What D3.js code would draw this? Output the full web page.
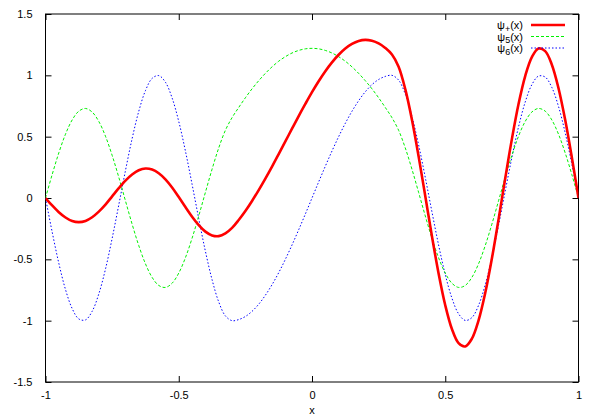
<!DOCTYPE html>
<html>
<head>
<meta charset="utf-8">
<script src="https://cdn.jsdelivr.net/npm/d3@7"></script>
<style>
  html, body { margin: 0; padding: 0; background: #fff; }
  svg { display: block; }
  text { font-family: "Liberation Sans", Arial, sans-serif; font-size: 11px; fill: #000; }
</style>
</head>
<body>
<svg id="chart" width="600" height="420"></svg>
<script>
const xs = [-1, -0.975, -0.95, -0.925, -0.9, -0.875, -0.85, -0.825, -0.8, -0.775,
  -0.75, -0.725, -0.7, -0.675, -0.65, -0.625, -0.6, -0.575, -0.55, -0.525,
  -0.5, -0.475, -0.45, -0.425, -0.4, -0.375, -0.35, -0.325, -0.3, -0.275,
  -0.25, -0.225, -0.2, -0.175, -0.15, -0.125, -0.1, -0.075, -0.05, -0.025,
  0,
  0.025, 0.05, 0.075, 0.1, 0.125, 0.15, 0.175, 0.2, 0.225, 0.25,
  0.275, 0.3, 0.325, 0.35, 0.375, 0.4, 0.425, 0.45, 0.475, 0.5,
  0.525, 0.55, 0.575, 0.6, 0.625, 0.65, 0.675, 0.7, 0.725, 0.75,
  0.775, 0.8, 0.825, 0.85, 0.875, 0.9, 0.925, 0.95, 0.975, 1];

const psiPlus = [0, -0.061, -0.116, -0.159, -0.188, -0.197, -0.187, -0.157, -0.111, -0.054,
  0.013, 0.080, 0.141, 0.191, 0.226, 0.240, 0.232, 0.202, 0.152, 0.086,
  0.008, -0.074, -0.153, -0.221, -0.274, -0.305, -0.311, -0.289, -0.244, -0.179,
  -0.106, -0.024, 0.064, 0.158, 0.256, 0.358, 0.461, 0.565, 0.668, 0.767,
  0.863,
  0.952, 1.034, 1.106, 1.168, 1.219, 1.256, 1.280, 1.289, 1.282, 1.261,
  1.223, 1.170, 1.070, 0.887, 0.638, 0.340, 0.016, -0.311, -0.615, -0.874,
  -1.068, -1.183, -1.210, -1.147, -0.998, -0.775, -0.493, -0.174, 0.159, 0.480,
  0.766, 0.994, 1.149, 1.219, 1.197, 1.087, 0.895, 0.637, 0.331, 0];

const psi5 = [0, 0.191, 0.368, 0.520, 0.636, 0.708, 0.730, 0.701, 0.624, 0.504,
  0.348, 0.169, -0.023, -0.213, -0.388, -0.536, -0.647, -0.713, -0.729, -0.695,
  -0.612, -0.487, -0.328, -0.146, 0.046, 0.235, 0.408, 0.552, 0.655, 0.738,
  0.817, 0.890, 0.956, 1.016, 1.069, 1.115, 1.152, 1.182, 1.203, 1.216,
  1.220,
  1.216, 1.203, 1.182, 1.152, 1.115, 1.069, 1.016, 0.956, 0.890, 0.817,
  0.738, 0.655, 0.552, 0.408, 0.235, 0.046, -0.146, -0.328, -0.487, -0.612,
  -0.695, -0.729, -0.713, -0.647, -0.536, -0.388, -0.213, -0.023, 0.169, 0.348,
  0.504, 0.624, 0.701, 0.730, 0.708, 0.636, 0.520, 0.368, 0.191, 0];

const psi6 = [0, -0.277, -0.532, -0.746, -0.901, -0.986, -0.994, -0.924, -0.782, -0.580,
  -0.330, -0.056, 0.223, 0.484, 0.707, 0.875, 0.975, 0.998, 0.944, 0.816,
  0.624, 0.383, 0.112, -0.168, -0.434, -0.666, -0.847, -0.961, -1.000, -0.991,
  -0.966, -0.924, -0.866, -0.793, -0.707, -0.609, -0.500, -0.383, -0.259, -0.131,
  0,
  0.131, 0.259, 0.383, 0.500, 0.609, 0.707, 0.793, 0.866, 0.924, 0.966,
  0.991, 1.000, 0.961, 0.847, 0.666, 0.434, 0.168, -0.112, -0.383, -0.624,
  -0.816, -0.944, -0.998, -0.975, -0.875, -0.707, -0.484, -0.223, 0.056, 0.330,
  0.580, 0.782, 0.924, 0.994, 0.986, 0.901, 0.746, 0.532, 0.277, 0];

const xTicks = [-1, -0.5, 0, 0.5, 1];
const xTickLabels = ["-1", "-0.5", "0", "0.5", "1"];
const yTicks = [-1.5, -1, -0.5, 0, 0.5, 1, 1.5];
const yTickLabels = ["-1.5", "-1", "-0.5", "0", "0.5", "1", "1.5"];
const seriesNames = ["+", "5", "6"];
const xLabel = "x";

const L = 45.5, R = 578.5, T = 14, B = 382;
const svg = d3.select("#chart");
const x = d3.scaleLinear().domain([-1, 1]).range([L, R]);
const y = d3.scaleLinear().domain([-1.5, 1.5]).range([B, T]);

svg.append("defs").append("clipPath").attr("id", "clip")
  .append("rect").attr("x", L).attr("y", T).attr("width", R - L).attr("height", B - T);

const tickLen = 6;
const xb = svg.append("g").attr("transform", `translate(0,${B})`)
  .call(d3.axisBottom(x).tickValues(xTicks).tickSize(-tickLen).tickPadding(9)
    .tickFormat((d, i) => xTickLabels[i]));
const xt = svg.append("g").attr("transform", `translate(0,${T})`)
  .call(d3.axisTop(x).tickValues(xTicks).tickSize(-tickLen).tickFormat(""));
const yl = svg.append("g").attr("transform", `translate(${L},0)`)
  .call(d3.axisLeft(y).tickValues(yTicks).tickSize(-tickLen).tickPadding(13)
    .tickFormat((d, i) => yTickLabels[i]));
const yr = svg.append("g").attr("transform", `translate(${R},0)`)
  .call(d3.axisRight(y).tickValues(yTicks).tickSize(-tickLen).tickFormat(""));

[xb, xt, yl, yr].forEach(g => {
  g.select(".domain").remove();
  g.selectAll(".tick line").attr("stroke", "#000").attr("stroke-width", 1);
  g.selectAll("text").attr("font-family", "Liberation Sans, Arial, sans-serif")
    .attr("font-size", 11).attr("fill", "#000");
});

svg.append("rect").attr("x", L).attr("y", T).attr("width", R - L).attr("height", B - T)
  .attr("fill", "none").attr("stroke", "#000").attr("stroke-width", 1);

svg.append("text").attr("x", (L + R) / 2).attr("y", 414).attr("text-anchor", "middle")
  .text(xLabel);

const series = [
  { vals: psiPlus, color: "#ff0000", width: 2.6, dash: null },
  { vals: psi5, color: "#00f000", width: 1, dash: "3,2" },
  { vals: psi6, color: "#0000ff", width: 1, dash: "1.5,2" }
];

const line = d3.line().curve(d3.curveCatmullRom.alpha(0.5));
const plot = svg.append("g").attr("clip-path", "url(#clip)");

series.slice().reverse().forEach(s => {
  plot.append("path")
    .attr("d", line(xs.map((xv, i) => [x(xv), y(s.vals[i])])))
    .attr("fill", "none")
    .attr("stroke", s.color)
    .attr("stroke-width", s.width)
    .attr("stroke-dasharray", s.dash)
    .attr("stroke-linejoin", "round");
});

const legY = [25, 36.5, 48];
const leg = svg.append("g");
series.forEach((s, i) => {
  const t = leg.append("text").attr("x", 523).attr("y", legY[i] + 4).attr("text-anchor", "end")
    .attr("font-size", 12);
  t.append("tspan").text("ψ");
  t.append("tspan").attr("font-size", 9).attr("dy", 2.5).text(seriesNames[i]);
  t.append("tspan").attr("dy", -2.5).text("(x)");
  leg.append("line").attr("x1", 531).attr("x2", 565).attr("y1", legY[i]).attr("y2", legY[i])
    .attr("stroke", s.color).attr("stroke-width", s.width).attr("stroke-dasharray", s.dash);
});
</script>
</body>
</html>
